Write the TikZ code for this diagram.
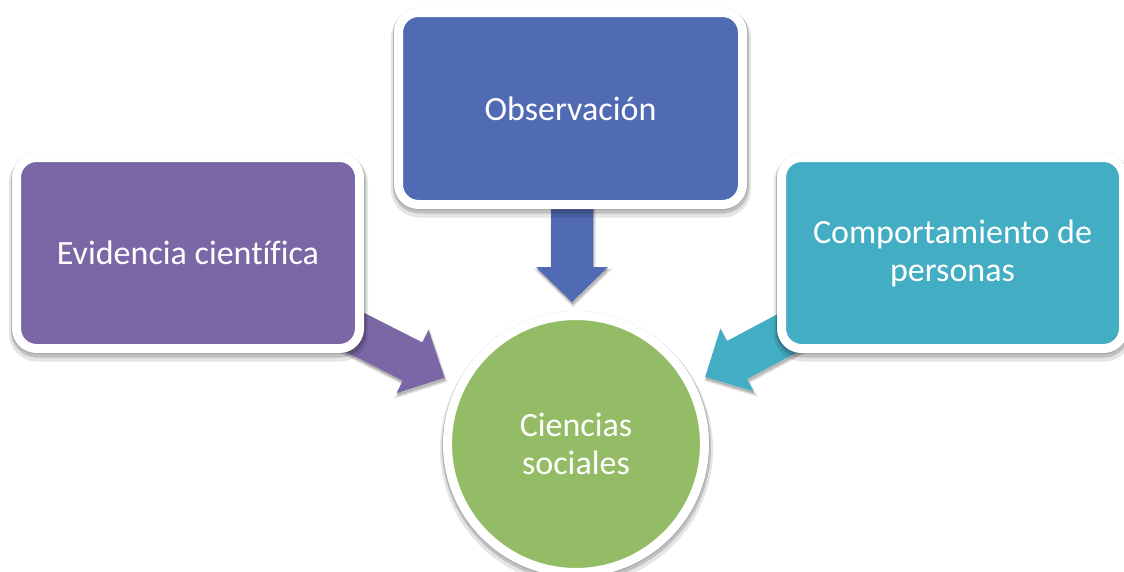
\documentclass[tikz,border=0pt]{standalone}
\usepackage{fontspec}
\setmainfont{Carlito}[Ligatures={NoCommon}]
\usetikzlibrary{shadows}
\definecolor{cpurple}{RGB}{123,103,165}
\definecolor{cblue}{RGB}{81,106,180}
\definecolor{cteal}{RGB}{67,173,196}
\definecolor{cgreen}{RGB}{148,188,102}
\begin{document}
\begin{tikzpicture}[x=1pt,y=-1pt,
  softshadow/.style={
    general shadow={shadow xshift=0.5pt, shadow yshift=-5pt, opacity=0.10, fill=black, draw=black, line width=16pt},
    general shadow={shadow xshift=0.5pt, shadow yshift=-3pt, opacity=0.16, fill=black, draw=black, line width=12pt},
    general shadow={shadow yshift=-0.5pt, opacity=0.10, fill=black, draw=black, line width=10.5pt}},
  arrowshadow/.style={
    general shadow={shadow xshift=1pt, shadow yshift=-3pt, opacity=0.12, fill=black, draw=black, line width=3pt},
    general shadow={shadow xshift=0.5pt, shadow yshift=-2pt, opacity=0.15, fill=black}},
  box/.style={rectangle, rounded corners=20pt, draw=white, line width=9pt,
    minimum width=343pt, minimum height=191pt, inner sep=0pt, text=white,
    font=\fontsize{34}{38}\selectfont, align=center, softshadow},
  hub/.style={circle, draw=white, line width=9pt, minimum size=257pt, inner sep=0pt,
    text=white, font=\fontsize{34}{38}\selectfont, align=center, softshadow},
  blockarrow/.style={draw=none, arrowshadow}]
\useasboundingbox (0,0) rectangle (1124,571);
\fill[white] (0,0) rectangle (1124,571);

% arrow anchor points (base of each arrow head)
\coordinate (aL) at (412.5,361.5);
\coordinate (aT) at (572,267);
\coordinate (aR) at (737,360);

\begin{scope}[shift={(aL)}, rotate=-26.9]
  \fill[cpurple, blockarrow] (-80,-21.5) -- (0,-21.5) -- (0,-35.5) -- (36,0) -- (0,35.5) -- (0,21.5) -- (-80,21.5) -- cycle;
\end{scope}
\begin{scope}[shift={(aT)}, rotate=-90]
  \fill[cblue, blockarrow] (-70,-21) -- (0,-21) -- (0,-36) -- (35,0) -- (0,36) -- (0,21) -- (-70,21) -- cycle;
\end{scope}
\begin{scope}[shift={(aR)}, rotate=-152]
  \fill[cteal, blockarrow] (-70,-21.5) -- (0,-21.5) -- (0,-35.5) -- (36,0) -- (0,35.5) -- (0,21.5) -- (-70,21.5) -- cycle;
\end{scope}

\node[box, fill=cpurple] (ev) at (188,253) {Evidencia científica};
\node[box, fill=cblue, minimum width=344pt, minimum height=192pt] (ob) at (570.5,108.5) {Observación};
\node[box, fill=cteal, minimum width=342pt] (co) at (952.5,253) {Comportamiento de\\personas};
\node[hub, fill=cgreen] (cs) at (576,444) {Ciencias\\sociales};
\end{tikzpicture}
\end{document}
